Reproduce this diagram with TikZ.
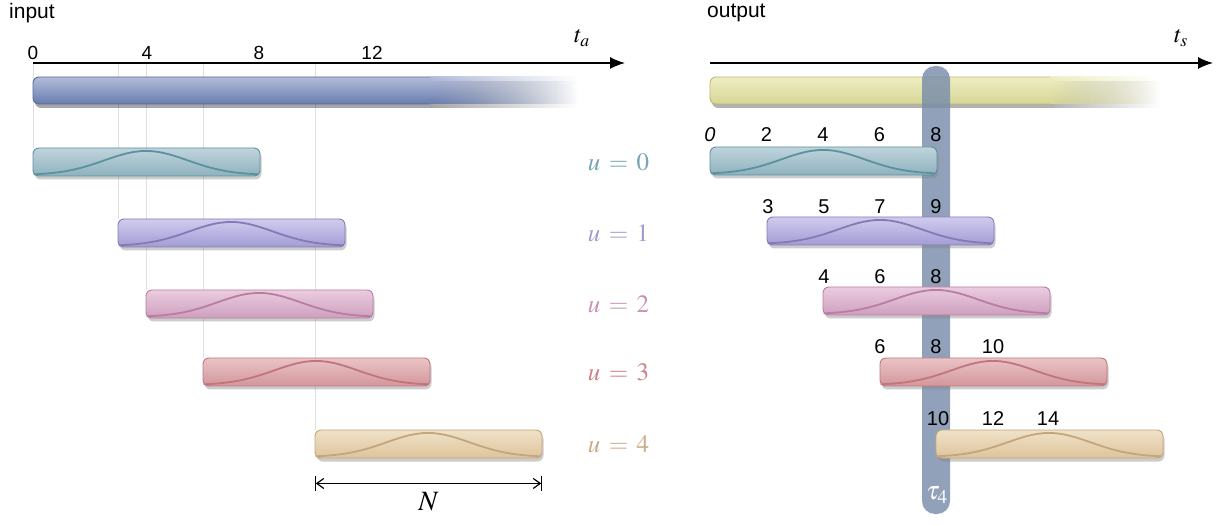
\documentclass[tikz,border=0pt]{standalone}
\usepackage{mathptmx}
\usepackage[no-math]{fontspec}
\setmainfont{Liberation Serif}
\setsansfont{Liberation Sans}
\usetikzlibrary{arrows.meta,shadows,fadings}

\definecolor{ctopb}{RGB}{178,188,218}
\definecolor{cbotb}{RGB}{104,124,174}
\definecolor{clineb}{RGB}{88,106,156}
\definecolor{ctopy}{RGB}{238,238,195}
\definecolor{cboty}{RGB}{214,214,150}
\definecolor{cliney}{RGB}{185,185,115}
\definecolor{ctop0}{RGB}{192,212,220}
\definecolor{cbot0}{RGB}{142,178,190}
\definecolor{cline0}{RGB}{92,145,160}
\definecolor{clab0}{RGB}{118,165,178}
\definecolor{ctop1}{RGB}{208,204,238}
\definecolor{cbot1}{RGB}{162,156,212}
\definecolor{cline1}{RGB}{132,122,182}
\definecolor{clab1}{RGB}{162,156,204}
\definecolor{ctop2}{RGB}{234,204,224}
\definecolor{cbot2}{RGB}{206,160,190}
\definecolor{cline2}{RGB}{186,124,160}
\definecolor{clab2}{RGB}{200,146,180}
\definecolor{ctop3}{RGB}{234,196,198}
\definecolor{cbot3}{RGB}{210,150,156}
\definecolor{cline3}{RGB}{192,118,124}
\definecolor{clab3}{RGB}{206,128,134}
\definecolor{ctop4}{RGB}{240,226,200}
\definecolor{cbot4}{RGB}{222,196,156}
\definecolor{cline4}{RGB}{196,166,124}
\definecolor{clab4}{RGB}{200,172,138}
\definecolor{ctau}{RGB}{118,138,168}

\tikzfading[name=fadeout, left color=transparent!0, right color=transparent!100]
\pgfdeclarelayer{background}
\pgfsetlayers{background,main}

\begin{document}
\begin{tikzpicture}[x=1pt, y=-1pt,
    sigbar/.style={rectangle, rounded corners=6pt, minimum width=227pt, minimum height=28pt, inner sep=0pt, line width=0.9pt,
        drop shadow={shadow xshift=1.5pt, shadow yshift=-3.5pt, opacity=0.4}},
    bumpline/.style={line width=1.8pt},
    ticklab/.style={font=\sffamily\fontsize{19}{19}\selectfont, inner sep=0pt},
    steplab/.style={font=\sffamily\fontsize{20}{20}\selectfont, inner sep=0pt},
    ulab/.style={font=\fontsize{25}{25}\selectfont, inner sep=0pt},
    guide/.style={draw=black!12, line width=0.7pt},
    timeaxis/.style={line width=1.4pt, -{Latex[length=15pt, width=12pt]}},
    dimline/.style={line width=1.2pt, {Bar[width=15pt]Straight Barb[length=7pt, width=10pt]}-{Straight Barb[length=7pt, width=10pt]Bar[width=15pt]}}
]
\useasboundingbox (0,0) rectangle (1221,526);

% --- input (left) ---
\node[anchor=west, font=\sffamily\fontsize{21}{21}\selectfont, inner sep=0pt] (inlab) at (9,13) {input};
\coordinate (ta0) at (33,63);
\coordinate (taend) at (625,63);
\draw[timeaxis] (ta0) -- (taend);
\node[font=\fontsize{24}{24}\selectfont] (talab) at (582,38) {$t_a$};
\foreach \n/\xx in {0/33, 4/147, 8/259, 12/372}
    \node[ticklab] (ta-\n) at (\xx,52.5) {\n};

% endless input stream, fading out
\fill[black, opacity=0.35] (431,81) [rounded corners=6pt] -- (35,81) -- (35,108) [sharp corners] -- (431,108) -- cycle;
\fill[black, opacity=0.35, path fading=fadeout] (431,81) rectangle (578,108);
\shade[top color=ctopb, bottom color=cbotb] (430,77) [rounded corners=6pt] -- (33,77) -- (33,104) [sharp corners] -- (430,104) -- cycle;
\shade[top color=ctopb, bottom color=cbotb, path fading=fadeout] (430,77) rectangle (578,104);
\draw[clineb, line width=0.9pt] (430,77) [rounded corners=6pt] -- (33,77) -- (33,104) -- (430,104);

% --- output (right) ---
\node[anchor=west, font=\sffamily\fontsize{21}{21}\selectfont, inner sep=0pt] (outlab) at (707,13) {output};
\coordinate (ts0) at (710,63);
\coordinate (tsend) at (1213,63);
\draw[timeaxis] (ts0) -- (tsend);
\node[font=\fontsize{24}{24}\selectfont] (tslab) at (1181,38) {$t_s$};

\fill[black, opacity=0.3] (1051,81) [rounded corners=6pt] -- (712,81) -- (712,108) [sharp corners] -- (1051,108) -- cycle;
\fill[black, opacity=0.3, path fading=fadeout] (1051,81) rectangle (1160,108);
\shade[top color=ctopy, bottom color=cboty] (1050,77) [rounded corners=6pt] -- (710,77) -- (710,104) [sharp corners] -- (1050,104) -- cycle;
\shade[top color=ctopy, bottom color=cboty, path fading=fadeout] (1050,77) rectangle (1160,104);
\draw[cliney, line width=0.9pt] (1050,77) [rounded corners=6pt] -- (710,77) -- (710,104) -- (1050,104);

% synthesis column at output step 4
\node[rectangle, rounded corners=13pt, minimum width=28pt, minimum height=448pt, inner sep=0pt,
      fill=ctau, opacity=0.8] (tau) at (936,290) {};
\node[text=white, font=\fontsize{26}{26}\selectfont, inner sep=0pt] (taulab) at (937,495) {$\tau_4$};

% --- frames u = 0..4 ---
\foreach \k/\xa/\ya/\xb/\yb in {0/146.5/162/823.5/161, 1/231.5/233/880.5/231, 2/259.5/304/936.5/301,
                                3/316.5/372/993.5/372, 4/428.5/444/1049.5/444} {
    \node[sigbar, top color=ctop\k, bottom color=cbot\k, draw=cline\k] (in\k) at (\xa,\ya) {};
    \draw[bumpline, cline\k, shift={(in\k.south west)}]
        plot[domain=1:226, samples=41] (\x, {-1.5-24*exp(-(((\x-113.5)/59)^2))});
    \begin{pgfonlayer}{background}
        \draw[guide] ([xshift=1pt]in\k.north west |- ta0) -- ([xshift=1pt]in\k.north west);
    \end{pgfonlayer}
    \node[ulab, text=clab\k] (u\k) at (618.5,\ya) {$u\,=\,\k$};
    \node[sigbar, top color=ctop\k, bottom color=cbot\k, draw=cline\k] (out\k) at (\xb,\yb) {};
    \draw[bumpline, cline\k, shift={(out\k.south west)}]
        plot[domain=1:226, samples=41] (\x, {-1.5-24*exp(-(((\x-113.5)/59)^2))});
}

% frame length
\draw[dimline] ([yshift=-25pt]in4.south west) -- node[below=8pt, inner sep=0pt, font=\fontsize{28}{28}\selectfont] (nlab) {$N$} ([yshift=-25pt]in4.south east);

% output time stamps
\node[steplab, font=\sffamily\itshape\fontsize{20}{20}\selectfont] (s0-0) at (710,135) {0};
\foreach \n/\xx in {2/766.5, 4/823, 6/879.5, 8/936}
    \node[steplab] (s0-\n) at (\xx,135) {\n};
\foreach \n/\xx in {3/768, 5/824, 7/880, 9/936}
    \node[steplab] (s1-\n) at (\xx,206.5) {\n};
\foreach \n/\xx in {4/824, 6/880, 8/936}
    \node[steplab] (s2-\n) at (\xx,277) {\n};
\foreach \n/\xx in {6/880, 8/936, 10/993}
    \node[steplab] (s3-\n) at (\xx,347) {\n};
\foreach \n/\xx in {10/938, 12/993, 14/1048}
    \node[steplab] (s4-\n) at (\xx,419) {\n};
\end{tikzpicture}
\end{document}
